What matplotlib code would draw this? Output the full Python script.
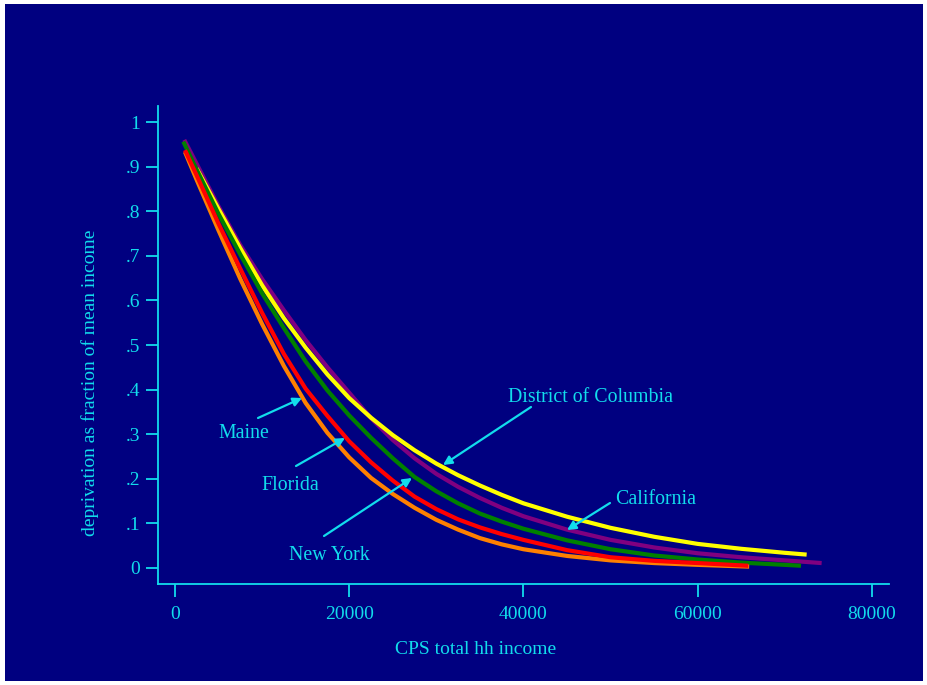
import matplotlib
matplotlib.use("Agg")
import matplotlib.pyplot as plt
from matplotlib.patches import Rectangle

# values
maine_x = [1150, 2500, 5000, 7500, 10000, 12500, 15000, 17500, 20000, 22500, 25000, 27500, 30000,
           32500, 35000, 37500, 40000, 45000, 50000, 55000, 60000, 65900]
maine_y = [0.933, 0.870, 0.757, 0.648, 0.547, 0.453, 0.370, 0.303, 0.248, 0.202, 0.166, 0.135, 0.108,
           0.086, 0.067, 0.053, 0.042, 0.027, 0.017, 0.011, 0.007, 0.003]

florida_x = [1150, 2500, 5000, 7500, 10000, 12500, 15000, 17500, 20000, 22500, 25000, 27500, 30000,
             32500, 35000, 37500, 40000, 45000, 50000, 55000, 60000, 65800]
florida_y = [0.937, 0.880, 0.772, 0.671, 0.572, 0.480, 0.402, 0.341, 0.284, 0.237, 0.196, 0.160, 0.132,
             0.109, 0.091, 0.076, 0.063, 0.040, 0.024, 0.016, 0.011, 0.005]

newyork_x = [960, 2500, 5000, 7500, 10000, 12500, 15000, 17500, 20000, 22500, 25000, 27500, 30000,
             32500, 35000, 37500, 40000, 45000, 50000, 55000, 60000, 65000, 70000, 71850]
newyork_y = [0.956, 0.893, 0.794, 0.703, 0.616, 0.538, 0.463, 0.398, 0.342, 0.292, 0.246, 0.204, 0.172,
             0.145, 0.122, 0.104, 0.088, 0.062, 0.042, 0.028, 0.019, 0.012, 0.007, 0.005]

calif_x = [1070, 2500, 5000, 7500, 10000, 12500, 15000, 17500, 20000, 22500, 25000, 27500, 30000,
           32500, 35000, 37500, 40000, 45000, 50000, 55000, 60000, 65000, 70000, 74220]
calif_y = [0.960, 0.906, 0.811, 0.724, 0.648, 0.578, 0.511, 0.450, 0.393, 0.336, 0.287, 0.246, 0.211,
           0.182, 0.157, 0.135, 0.116, 0.086, 0.063, 0.046, 0.033, 0.024, 0.017, 0.011]

dc_x = [2490, 5000, 7500, 10000, 12500, 15000, 17500, 20000, 22500, 25000, 27500, 30000,
        32500, 35000, 37500, 40000, 45000, 50000, 55000, 60000, 65000, 70000, 72500]
dc_y = [0.896, 0.805, 0.717, 0.634, 0.560, 0.494, 0.434, 0.381, 0.337, 0.298, 0.264, 0.234,
        0.208, 0.185, 0.164, 0.145, 0.115, 0.090, 0.070, 0.054, 0.043, 0.034, 0.030]

xticks = [0, 20000, 40000, 60000, 80000]
yticks = [0, 0.1, 0.2, 0.3, 0.4, 0.5, 0.6, 0.7, 0.8, 0.9, 1]
ytick_labels = ["0", ".1", ".2", ".3", ".4", ".5", ".6", ".7", ".8", ".9", "1"]

navy = "#000080"
cyan = "#12DCEC"

plt.rcParams["font.family"] = ["Liberation Serif", "DejaVu Serif"]

fig = plt.figure(figsize=(9.27, 6.85), dpi=100, facecolor="white")
fig.patches.append(Rectangle((5 / 927, 4 / 685), 918 / 927, 677 / 685,
                             transform=fig.transFigure, facecolor=navy,
                             edgecolor="none", zorder=-1))

ax = fig.add_axes([0.1704, 0.1474, 0.959 - 0.1704, 0.6979])
ax.set_facecolor(navy)

lw = 3.0
ax.plot(calif_x, calif_y, color="#800080", lw=lw, solid_capstyle="butt")
ax.plot(dc_x, dc_y, color="#FFFF00", lw=lw, solid_capstyle="butt")
ax.plot(newyork_x, newyork_y, color="#008000", lw=lw, solid_capstyle="butt")
ax.plot(maine_x, maine_y, color="#FF8000", lw=lw, solid_capstyle="butt")
ax.plot(florida_x, florida_y, color="#FF0000", lw=lw, solid_capstyle="butt")

ax.set_xlim(-1950, 81950)
ax.set_ylim(-0.036, 1.036)
ax.set_xticks(xticks)
ax.set_yticks(yticks)
ax.set_yticklabels(ytick_labels)

for s in ["top", "right"]:
    ax.spines[s].set_visible(False)
for s in ["left", "bottom"]:
    ax.spines[s].set_color(cyan)
    ax.spines[s].set_linewidth(1.3)
ax.tick_params(colors=cyan, direction="out", length=9, width=1.3,
               labelsize=14, pad=4)
ax.tick_params(axis="x", pad=7)

fx = lambda p: p / 927
fy = lambda p: 1 - p / 685

# axis titles sit off-centre in the original
fig.text(fx(476), fy(650), "CPS total hh income", color=cyan, fontsize=14,
         ha="center", va="center")
fig.text(fx(90), fy(383), "deprivation as fraction of mean income", color=cyan,
         fontsize=14, ha="center", va="center", rotation=90)

arrow = dict(arrowstyle="-|>", color=cyan, lw=1.6, mutation_scale=13,
             shrinkA=0, shrinkB=0)

def label(txt, tx, ty, sx, sy, hx, hy):
    # positions in figure pixels (from top-left), arrow head at (hx, hy)
    ax.annotate("", xy=(fx(hx), fy(hy)), xycoords="figure fraction",
                xytext=(fx(sx), fy(sy)), textcoords="figure fraction",
                arrowprops=arrow)
    fig.text(fx(tx), fy(ty + 2), txt, color=cyan, fontsize=14.3,
             ha="center", va="center")

label("District of Columbia", 591, 395, 531, 407, 443, 465)
label("California", 656, 498, 610, 503, 567, 530)
label("Maine", 244, 432, 258, 418, 302, 398)
label("Florida", 290, 483, 296, 466, 345, 438)
label("New York", 329, 554, 324, 536, 412, 478)

fig.savefig("out.png", dpi=100, facecolor="white")
